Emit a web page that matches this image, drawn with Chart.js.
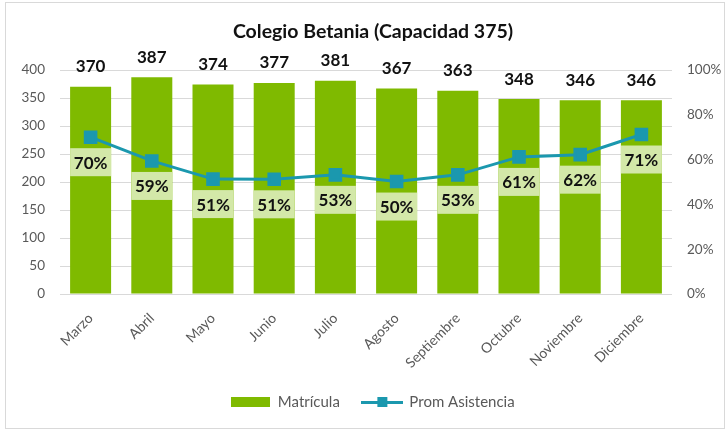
<!DOCTYPE html>
<html><head><meta charset="utf-8">
<script src="https://cdn.jsdelivr.net/npm/chart.js@4.4.1/dist/chart.umd.min.js"></script>
<style>
html,body{margin:0;padding:0;background:#fff;}
#wrap{position:relative;width:728px;height:431px;}
#frame{position:absolute;left:5px;top:2px;width:720px;height:427px;border:1px solid #D9D9D9;box-sizing:border-box;pointer-events:none}
canvas{position:absolute;left:0;top:0}
</style></head><body>
<div id="wrap"><canvas id="c" width="728" height="431"></canvas><div id="frame"></div></div>
<script>
const months = ['Marzo','Abril','Mayo','Junio','Julio','Agosto','Septiembre','Octubre','Noviembre','Diciembre'];
const matricula = [370,387,374,377,381,367,363,348,346,346];
const asistencia = [0.70,0.594,0.513,0.512,0.532,0.502,0.532,0.612,0.622,0.712];
const titleText = 'Colegio Betania (Capacidad 375)';
const seriesNames = ['Matrícula','Prom Asistencia'];

const GREEN = '#7FBA00', TEAL = '#1B98AE', LABELBG = '#D3E8A8', GREY = '#595959';
const FONT = 'Lato';

function legendBar(){
  const c = document.createElement('canvas'); c.width = 39; c.height = 10;
  const x = c.getContext('2d'); x.fillStyle = GREEN; x.fillRect(0,0,39,10); return c;
}
function legendLine(){
  const c = document.createElement('canvas'); c.width = 42; c.height = 12;
  const x = c.getContext('2d'); x.fillStyle = TEAL; x.fillRect(0,5,42,3); x.fillRect(16,1,10,10); return c;
}

const labelPlugin = {
  id:'valueLabels',
  afterDatasetsDraw(chart){
    const ctx = chart.ctx;
    const bars = chart.getDatasetMeta(0).data;
    const pts = chart.getDatasetMeta(1).data;
    ctx.save();
    ctx.font = 'bold 17px ' + FONT;
    ctx.textAlign = 'center'; ctx.textBaseline = 'middle';
    bars.forEach((b,i)=>{ ctx.fillStyle = '#111'; ctx.fillText(String(matricula[i]), b.x, b.y - 20); });
    pts.forEach((p,i)=>{
      const w = bars[i].width; const cy = p.y + 25;
      ctx.fillStyle = LABELBG; ctx.fillRect(p.x - w/2, cy - 14, w, 28);
      ctx.fillStyle = '#111'; ctx.fillText(Math.round(asistencia[i]*100) + '%', p.x, cy + 1);
    });
    ctx.restore();
  }
};

new Chart(document.getElementById('c'), {
  data: {
    labels: months,
    datasets: [
      { type:'bar', label:seriesNames[0], data:matricula, backgroundColor:GREEN, yAxisID:'y', order:1,
        barPercentage:0.67, categoryPercentage:1 },
      { type:'line', label:seriesNames[1], data:asistencia, borderColor:TEAL, backgroundColor:TEAL, borderWidth:3,
        pointStyle:'rect', pointRadius:7.5, pointHoverRadius:7.5, yAxisID:'y2', order:0, tension:0 }
    ]
  },
  options: {
    responsive:false, animation:false,
    layout:{ padding:{ top:0, bottom:11.5, left:18, right:0 } },
    plugins:{
      tooltip:{enabled:false},
      title:{ display:true, text:titleText, color:'#111', font:{family:FONT, size:19.5, weight:'bold'},
        padding:{top:20.3, bottom:26.3} },
      legend:{ position:'bottom',
        labels:{ usePointStyle:true, pointStyleWidth:39, padding:23, color:GREY, font:{family:FONT, size:15},
          generateLabels(){ return [
            {text:seriesNames[0], pointStyle:legendBar(), fillStyle:GREEN, strokeStyle:GREEN, lineWidth:0, datasetIndex:0, fontColor:GREY},
            {text:seriesNames[1], pointStyle:legendLine(), fillStyle:TEAL, strokeStyle:TEAL, lineWidth:0, datasetIndex:1, fontColor:GREY}
          ]; } } }
    },
    scales:{
      x:{ grid:{display:false}, border:{display:false},
        ticks:{ color:GREY, font:{family:FONT, size:14}, minRotation:45, maxRotation:45, padding:8 },
        afterFit(s){ s.height = 77.5; } },
      y:{ position:'left', min:0, max:400, border:{display:false},
        grid:{ color:'#D9D9D9', drawTicks:false },
        ticks:{ stepSize:50, color:GREY, font:{family:FONT, size:13.5}, padding:15 },
        afterFit(s){ s.width = 42; } },
      y2:{ position:'right', min:0, max:1, border:{display:false},
        grid:{ display:false, drawTicks:false },
        ticks:{ stepSize:0.2, color:GREY, font:{family:FONT, size:13.5}, padding:15,
          callback:v=>Math.round(v*100)+'%' },
        afterFit(s){ s.width = 56; } }
    }
  },
  plugins:[labelPlugin]
});
</script>
</body></html>
